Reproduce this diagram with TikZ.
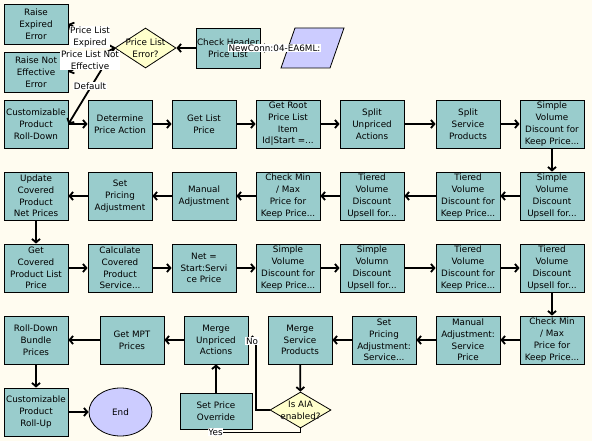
\documentclass[tikz,border=0pt]{standalone}
\usepackage{fontspec}
\setmainfont{DejaVu Sans}
\usetikzlibrary{arrows.meta,shapes.geometric}
\definecolor{bgc}{HTML}{FFFCF0}
\definecolor{boxc}{HTML}{99CCCC}
\definecolor{diac}{HTML}{FFFFCC}
\definecolor{lav}{HTML}{CCCCFF}
\begin{document}
\begin{tikzpicture}[x=1pt,y=-1pt,
  base/.style={font=\fontsize{8.8}{11.8}\selectfont, align=center, inner sep=0pt},
  box/.style={base, draw=black, line width=0.8pt, fill=boxc, minimum width=64pt, minimum height=48pt},
  sbox/.style={box, minimum height=40pt},
  dia/.style={diamond, draw=black, line width=0.8pt, fill=diac, inner sep=0pt},
  conn/.style={line width=1.8pt, -{Straight Barb[length=3.5pt,width=8pt]}},
  lbl/.style={base, fill=white, inner sep=0.6pt}]
\fill[bgc] (0,0) rectangle (592,441);
\useasboundingbox (0,0) rectangle (592,441);

% top area
\node[sbox] (ree) at (36,24) {Raise\\Expired\\Error};
\node[sbox] (rne) at (36,72) {Raise Not\\Effective\\Error};
\node[dia, minimum width=61pt, minimum height=40pt] (ple) at (145.5,48) {};
\node[base] (plet) at (ple) {Price List\\Error?};
\node[sbox] (chp) at (228,48) {Check Header\\Price List};
\filldraw[fill=lav, draw=black, line width=0.8pt] (281,68) -- (295,28) -- (344,28) -- (330,68) -- cycle;
\coordinate (start) at (288,48);

% row 2
\node[box] (rd) at (36,124) {Customizable\\Product\\Roll-Down};
\node[box] (dpa) at (120,124) {Determine\\Price Action};
\node[box] (glp) at (204,124) {Get List\\Price};
\node[box] (grp) at (288,124) {Get Root\\Price List\\Item\\Id|Start =...};
\node[box] (sua) at (372,124) {Split\\Unpriced\\Actions};
\node[box] (ssp) at (468,124) {Split\\Service\\Products};
\node[box] (svk1) at (552,124) {Simple\\Volume\\Discount for\\Keep Price...};

% row 3
\node[box] (svu1) at (552,196) {Simple\\Volume\\Discount\\Upsell for...};
\node[box] (tvk1) at (468,196) {Tiered\\Volume\\Discount for\\Keep Price...};
\node[box] (tvu1) at (372,196) {Tiered\\Volume\\Discount\\Upsell for...};
\node[box] (cmm1) at (288,196) {Check Min\\/ Max\\Price for\\Keep Price...};
\node[box] (ma1) at (204,196) {Manual\\Adjustment};
\node[box] (spa1) at (120,196) {Set\\Pricing\\Adjustment};
\node[box] (ucp) at (36,196) {Update\\Covered\\Product\\Net Prices};

% row 4
\node[box] (gcp) at (36,268) {Get\\Covered\\Product List\\Price};
\node[box] (ccp) at (120,268) {Calculate\\Covered\\Product\\Service...};
\node[box] (net) at (204,268) {Net =\\Start:Servi\\ce Price};
\node[box] (svk2) at (288,268) {Simple\\Volume\\Discount for\\Keep Price...};
\node[box] (svu2) at (372,268) {Simple\\Volumn\\Discount\\Upsell for...};
\node[box] (tvk2) at (468,268) {Tiered\\Volume\\Discount for\\Keep Price...};
\node[box] (tvu2) at (552,268) {Tiered\\Volume\\Discount\\Upsell for...};

% row 5
\node[box] (cmm2) at (552,340) {Check Min\\/ Max\\Price for\\Keep Price...};
\node[box] (mas) at (468,340) {Manual\\Adjustment:\\Service\\Price};
\node[box] (spas) at (384,340) {Set\\Pricing\\Adjustment:\\Service...};
\node[box] (msp) at (300,340) {Merge\\Service\\Products};
\node[box] (mua) at (216,340) {Merge\\Unpriced\\Actions};
\node[box] (mpt) at (132,340) {Get MPT\\Prices};
\node[box] (rdb) at (36,340) {Roll-Down\\Bundle\\Prices};

% row 6
\node[box] (ru) at (36,412) {Customizable\\Product\\Roll-Up};
\node[base, ellipse, draw=black, line width=0.8pt, fill=lav, minimum width=63pt, minimum height=48pt] (endn) at (120.5,412) {End};
\node[box, minimum width=72pt, minimum height=36pt] (spo) at (216,411) {Set Price\\Override};
\node[dia, minimum width=61pt, minimum height=36pt] (aia) at (300.5,410) {};
\node[base] (aiat) at (aia) {Is AIA\\enabled?};

% connectors
\draw[conn] (start) -- (chp.east);
\draw[conn] (chp.west) -- (ple.east);
\draw[conn] (ple.west) -- (ree.east);
\draw[conn] (ple.west) -- (rne.east);
\draw[conn] (ple.west) -- (rd.east);

\draw[conn] (rd) -- (dpa);
\draw[conn] (dpa) -- (glp);
\draw[conn] (glp) -- (grp);
\draw[conn] (grp) -- (sua);
\draw[conn] (sua) -- (ssp);
\draw[conn] (ssp) -- (svk1);
\draw[conn] (svk1) -- (svu1);
\draw[conn] (svu1) -- (tvk1);
\draw[conn] (tvk1) -- (tvu1);
\draw[conn] (tvu1) -- (cmm1);
\draw[conn] (cmm1) -- (ma1);
\draw[conn] (ma1) -- (spa1);
\draw[conn] (spa1) -- (ucp);
\draw[conn] (ucp) -- (gcp);
\draw[conn] (gcp) -- (ccp);
\draw[conn] (ccp) -- (net);
\draw[conn] (net) -- (svk2);
\draw[conn] (svk2) -- (svu2);
\draw[conn] (svu2) -- (tvk2);
\draw[conn] (tvk2) -- (tvu2);
\draw[conn] (tvu2) -- (cmm2);
\draw[conn] (cmm2) -- (mas);
\draw[conn] (mas) -- (spas);
\draw[conn] (spas) -- (msp);
\draw[conn] (msp) -- (aia);
\draw[conn] (aia.west) -- ++(-14,0) |- (mua.east);
\draw[conn] (aia.south) -- ++(0,4) -| (spo.south);
\draw[conn] (spo) -- (mua);
\draw[conn] (mua) -- (mpt);
\draw[conn] (mpt) -- (rdb);
\draw[conn] (rdb) -- (ru);
\draw[conn] (ru) -- (endn);

% labels
\node[lbl] (lnc) at (274.5,48) {NewConn:04-EA6ML:};
\node[lbl] (lexp) at (90,37) {Price List\\Expired};
\node[lbl] (lne) at (90,60.5) {Price List Not\\Effective};
\node[lbl] (ldef) at (90,86) {Default};
\node[lbl] (lno) at (252,341) {No};
\node[lbl] (lyes) at (215.5,432) {Yes};
\end{tikzpicture}
\end{document}
